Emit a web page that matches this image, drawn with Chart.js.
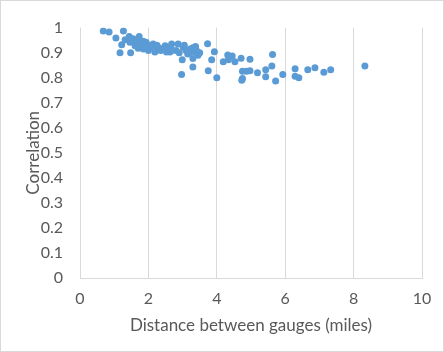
<!DOCTYPE html>
<html>
<head>
<meta charset="utf-8">
<script src="https://cdn.jsdelivr.net/npm/chart.js@4"></script>
<style>
  html, body { margin: 0; padding: 0; background: #fff; }
  #wrap { width: 444px; height: 352px; box-sizing: border-box; border: 1px solid #d9d9d9; }
</style>
</head>
<body>
<div id="wrap"><canvas id="myChart" width="442" height="350"></canvas></div>
<script>
const ctx = document.getElementById('myChart');

// distance between gauges (miles)
var xValues = [0.68, 0.85, 1.05, 1.27, 1.17, 1.48, 1.22, 1.32, 1.44, 1.46, 1.58, 1.73, 1.61, 1.75, 1.93,
  1.70, 1.85, 2.00, 2.14, 2.24, 2.19, 2.36, 2.49, 2.53, 2.68, 2.63, 2.87, 2.81, 3.02, 3.10, 3.22, 3.36,
  1.55, 1.65, 1.80, 1.90, 2.05, 2.10, 2.30, 2.40, 2.60, 2.70, 2.90, 3.05, 3.15, 3.30, 3.40, 3.45, 3.50,
  3.38, 1.70, 1.85, 1.95, 2.25, 3.20,
  2.99, 3.30, 2.97, 3.30, 3.73, 3.93, 3.85, 3.75, 4.00, 4.19, 4.32, 4.45, 4.34, 4.53, 4.71, 4.97,
  4.75, 4.87, 4.97, 4.75, 4.73, 5.19, 5.43, 5.43, 5.63, 5.61, 5.72, 5.93, 6.29, 6.29, 6.40, 6.66,
  6.87, 7.13, 7.33, 8.33];
// correlation
var yValues = [0.986, 0.982, 0.958, 0.986, 0.900, 0.900, 0.932, 0.951, 0.964, 0.941, 0.947, 0.964, 0.928, 0.935, 0.941,
  0.918, 0.915, 0.909, 0.935, 0.922, 0.903, 0.909, 0.928, 0.903, 0.935, 0.903, 0.935, 0.909, 0.922, 0.909, 0.915, 0.903,
  0.955, 0.940, 0.930, 0.925, 0.920, 0.930, 0.920, 0.915, 0.920, 0.910, 0.900, 0.930, 0.895, 0.920, 0.910, 0.890, 0.900,
  0.925, 0.955, 0.945, 0.935, 0.930, 0.900,
  0.872, 0.877, 0.813, 0.843, 0.936, 0.904, 0.872, 0.828, 0.800, 0.864, 0.891, 0.887, 0.872, 0.864, 0.878, 0.874,
  0.826, 0.826, 0.828, 0.797, 0.790, 0.820, 0.832, 0.804, 0.893, 0.847, 0.787, 0.813, 0.836, 0.806, 0.800, 0.832,
  0.840, 0.822, 0.832, 0.847];

var points = xValues.map(function (x, i) { return { x: x, y: yValues[i] }; });

var textColor = '#595959';
var gridColor = '#d9d9d9';
var tickFont = { family: 'Lato, "Open Sans", sans-serif', size: 16 };
var titleFont = { family: 'Lato, "Open Sans", sans-serif', size: 17 };

const chart = new Chart(ctx, {
    type: 'scatter',
    data: {
        datasets: [{
            data: points,
            backgroundColor: '#5b9bd5',
            borderColor: '#5b9bd5',
            pointRadius: 3.5,
            pointBorderWidth: 0
        }]
    },
    options: {
        responsive: false,
        animation: false,
        layout: { padding: { left: 10, right: 21, top: 17, bottom: 6 } },
        scales: {
            x: {
                min: 0,
                max: 10,
                ticks: { stepSize: 2, color: textColor, font: tickFont, padding: 11, maxRotation: 0 },
                grid: { color: gridColor, drawTicks: false },
                border: { color: gridColor },
                title: { display: true, text: 'Distance between gauges (miles)', color: textColor, font: titleFont, padding: { top: 0, bottom: 9 } },
                afterFit: function (scale) { scale.height = 67; }
            },
            y: {
                min: 0,
                max: 1,
                ticks: {
                    stepSize: 0.1, color: textColor, font: tickFont, padding: 17,
                    callback: function (v) { return String(Math.round(v * 10) / 10); }
                },
                grid: { display: false, drawTicks: false },
                border: { display: false },
                title: { display: true, text: 'Correlation', color: textColor, font: titleFont, padding: { top: 12 } },
                afterFit: function (scale) { scale.width = 69; }
            }
        },
        plugins: {
            legend: { display: false },
            tooltip: { enabled: false }
        }
    }
});
</script>
</body>
</html>
